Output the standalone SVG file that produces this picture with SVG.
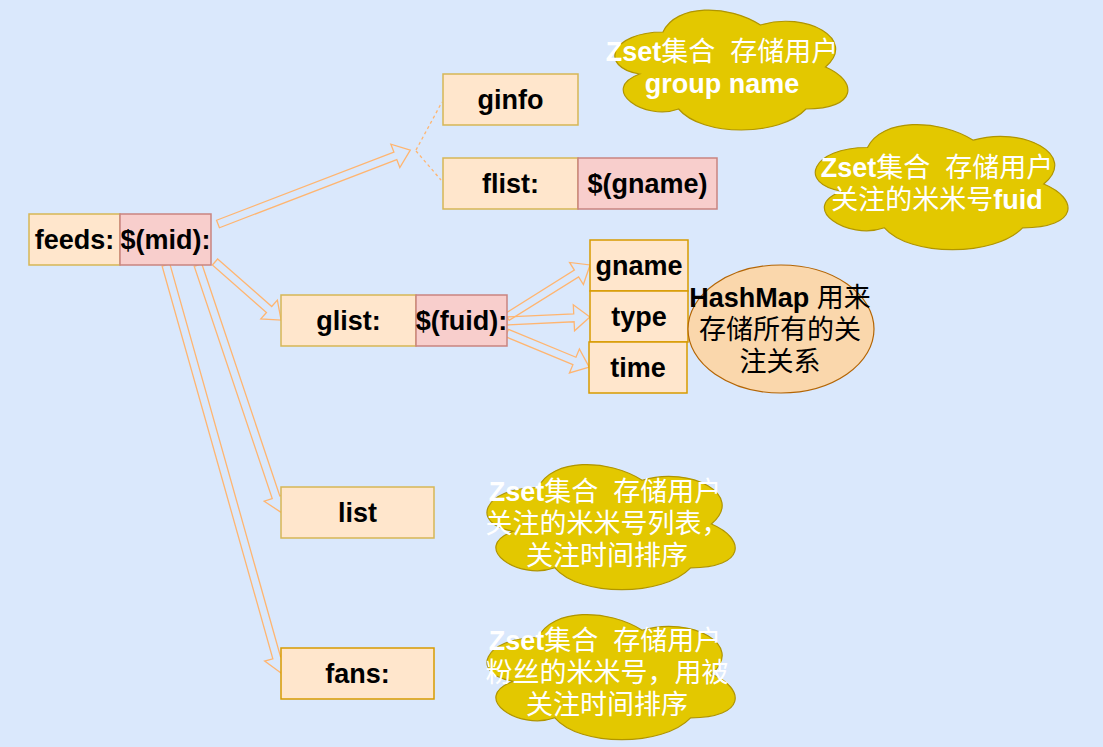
<svg xmlns="http://www.w3.org/2000/svg" width="1103" height="747" viewBox="0 0 1103 747">
<defs>
<style>
.t{font-family:"Liberation Sans","Noto Sans CJK SC",sans-serif;font-size:27px;text-anchor:middle;dominant-baseline:central;white-space:pre}
.b{font-weight:bold}
.w{fill:#ffffff}
.k{fill:#000000}
.y{fill:#ffe6cc;stroke:#d6b656;stroke-width:1.5}
.yo{fill:#ffe6cc;stroke:#d79b00;stroke-width:1.5}
.p{fill:#f8cecc;stroke:#c98480;stroke-width:1.5}
.a{fill:none;stroke:#ffb570;stroke-width:1.3}
.d{fill:none;stroke:#ffb570;stroke-width:1.3;stroke-dasharray:3 3}
.c{fill:#e3c800;stroke:#b09500;stroke-width:1.2}
</style>
<path id="cloud" vector-effect="non-scaling-stroke" d="M25,25 C5,25 0,50 16,55 C0,66 18,89 31,80 C40,100 70,100 80,80 C100,80 100,60 87.5,50 C100,30 80,10 62.5,20 C50,5 30,5 25,25 Z"/>
</defs>
<rect x="0" y="0" width="1103" height="747" fill="#dae8fc"/>

<g id="connectors">
<polygon class="a" points="0,-4 190,-4 190,-12.5 206,0 190,12.5 190,4 0,4" transform="translate(218,224) rotate(-21.03)"/>
<line class="d" x1="416" y1="150" x2="442" y2="102"/>
<line class="d" x1="416" y1="151" x2="441" y2="180"/>
<polygon class="a" points="0,-4 72,-4 72,-12.5 88,0 72,12.5 72,4 0,4" transform="translate(215,262) rotate(41.3)"/>
<polygon class="a" points="0,-4 245,-4 245,-12.5 261,0 245,12.5 245,4 0,4" transform="translate(198,265) rotate(71.43)"/>
<polygon class="a" points="0,-4 408,-4 408,-12.5 424,0 408,12.5 408,4 0,4" transform="translate(166,265) rotate(74.26)"/>
<polygon class="a" points="0,-4 82,-4 82,-13 98,0 82,13 82,4 0,4" transform="translate(507,317) rotate(-32.07)"/>
<polygon class="a" points="0,-4 67,-4 67,-13 83,0 67,13 67,4 0,4" transform="translate(507,321) rotate(-2.76)"/>
<polygon class="a" points="0,-4 73,-4 73,-13 89,0 73,13 73,4 0,4" transform="translate(507,333) rotate(22.52)"/>
</g>

<g id="feeds"><rect class="y" x="29" y="214" width="91" height="51"/><text class="t b k" x="74.5" y="240">feeds:</text></g>
<g id="mid"><rect class="p" x="120" y="214" width="91" height="51"/><text class="t b k" x="165.5" y="240">$(mid):</text></g>
<g id="ginfo"><rect class="y" x="443" y="74" width="135" height="51"/><text class="t b k" x="510.5" y="100">ginfo</text></g>
<g id="flist"><rect class="y" x="443" y="158" width="135" height="51"/><text class="t b k" x="510.5" y="184">flist:</text></g>
<g id="gname-key"><rect class="p" x="578" y="158" width="139" height="51"/><text class="t b k" x="647.5" y="184">$(gname)</text></g>
<g id="glist"><rect class="y" x="281" y="295" width="135" height="51"/><text class="t b k" x="348.5" y="321">glist:</text></g>
<g id="fuid"><rect class="p" x="416" y="295" width="91" height="51"/><text class="t b k" x="461.5" y="321">$(fuid):</text></g>
<g id="gname"><rect class="yo" x="590" y="240" width="98" height="51"/><text class="t b k" x="639" y="266">gname</text></g>
<g id="type"><rect class="yo" x="590" y="291" width="98" height="51"/><text class="t b k" x="639" y="317">type</text></g>
<g id="time"><rect class="yo" x="589" y="342" width="98" height="51"/><text class="t b k" x="638" y="368">time</text></g>
<g id="list"><rect class="y" x="281" y="487" width="153" height="51"/><text class="t b k" x="357.5" y="513">list</text></g>
<g id="fans"><rect class="yo" x="281" y="648" width="153" height="51"/><text class="t b k" x="357.5" y="674">fans:</text></g>

<g id="hashmap">
<ellipse cx="781" cy="329" rx="93" ry="64" fill="#fad7ac" stroke="#b46504" stroke-width="1.2"/>
<text class="t k" x="780" y="298"><tspan class="b">HashMap</tspan> 用来</text>
<text class="t k" x="780" y="330">存储所有的关</text>
<text class="t k" x="780" y="362">注关系</text>
</g>

<g id="cloud1">
<use href="#cloud" class="c" transform="translate(598,-3) scale(2.6,1.4)"/>
<text class="t w" x="722" y="52"><tspan class="b">Zset</tspan>集合  存储用户</text>
<text class="t w b" x="722" y="84">group name</text>
</g>
<g id="cloud2">
<use href="#cloud" class="c" transform="translate(797,111) scale(2.82,1.46)"/>
<text class="t w" x="937" y="168"><tspan class="b">Zset</tspan>集合  存储用户</text>
<text class="t w" x="937" y="200">关注的米米号<tspan class="b">fuid</tspan></text>
</g>
<g id="cloud3">
<use href="#cloud" class="c" transform="translate(469,451) scale(2.77,1.46)"/>
<text class="t w" x="605" y="492"><tspan class="b">Zset</tspan>集合  存储用户</text>
<text class="t w" x="607" y="524">关注的米米号列表，</text>
<text class="t w" x="607" y="556">关注时间排序</text>
</g>
<g id="cloud4">
<use href="#cloud" class="c" transform="translate(469,601) scale(2.77,1.46)"/>
<text class="t w" x="605" y="641"><tspan class="b">Zset</tspan>集合  存储用户</text>
<text class="t w" x="607" y="673">粉丝的米米号，用被</text>
<text class="t w" x="607" y="705">关注时间排序</text>
</g>
</svg>
